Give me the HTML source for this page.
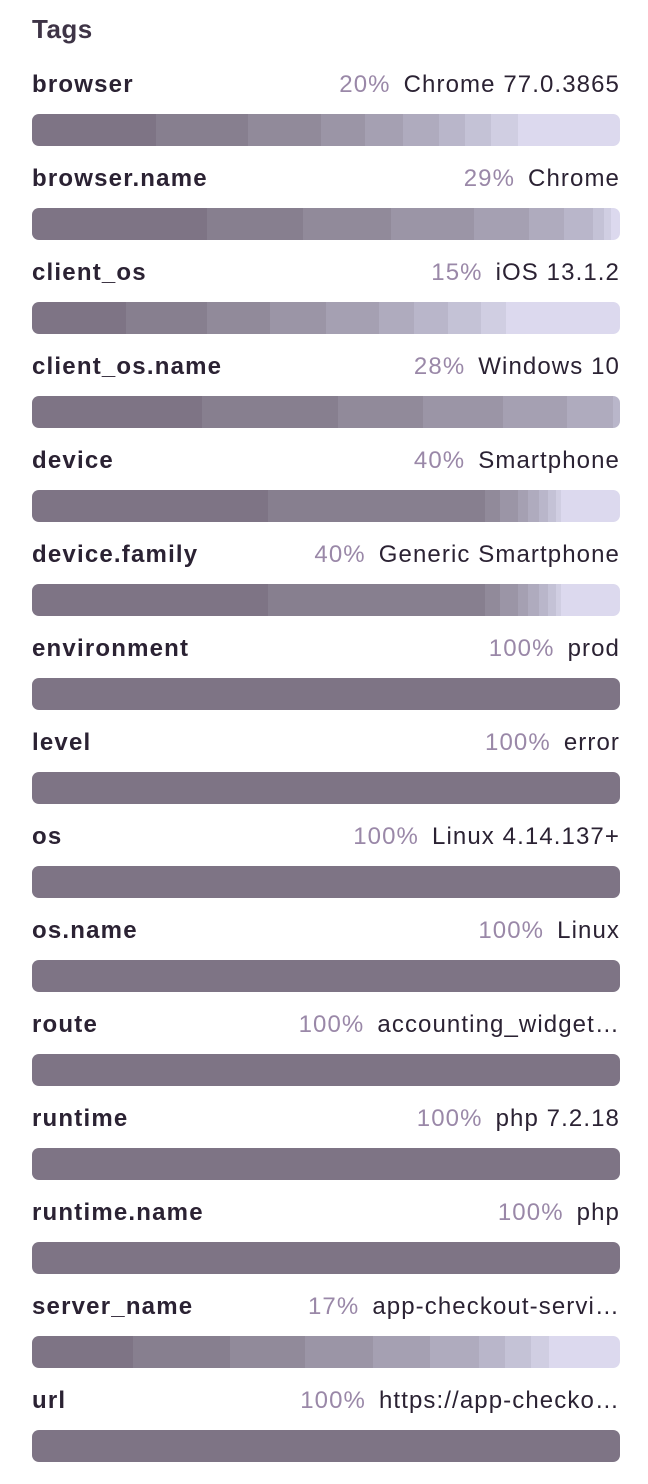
<!DOCTYPE html>
<html><head><meta charset="utf-8">
<style>
html,body{margin:0;padding:0;background:#fff;width:648px;height:1484px;overflow:hidden;font-family:"Liberation Sans",sans-serif;}
#root{position:relative;width:648px;height:1484px;}
.title{position:absolute;left:32px;top:14px;font-size:26px;font-weight:bold;color:#3e3446;letter-spacing:0.5px;line-height:30px;}
.lab{position:absolute;left:32px;font-size:24px;font-weight:bold;color:#2b2233;line-height:28px;letter-spacing:1.2px;}
.val{position:absolute;right:28px;font-size:24px;color:#2b2233;line-height:28px;white-space:nowrap;letter-spacing:1.1px;}
.pct{color:#9a88a8;margin-right:13px;}
.bar{position:absolute;left:32px;width:588px;height:32px;border-radius:7px;overflow:hidden;display:flex;}
.seg{height:100%;}
</style></head><body>
<div id="root">
<div class="title">Tags</div>
</div>
<script>
const tagNames=["browser","browser.name","client_os","client_os.name","device","device.family","environment","level","os","os.name","route","runtime","runtime.name","server_name","url"];
const topPercents=["20%","29%","15%","28%","40%","40%","100%","100%","100%","100%","100%","100%","100%","17%","100%"];
const topValues=["Chrome 77.0.3865","Chrome","iOS 13.1.2","Windows 10","Smartphone","Generic Smartphone","prod","error","Linux 4.14.137+","Linux","accounting_widget…","php 7.2.18","php","app-checkout-servi…","https://app-checko…"];
const segBrowser=[123.5,92.2,73.1,44.2,37.8,35.9,26.6,26.2,26.5,102];
const segBrowserName=[174.7,96.1,88.2,83.3,54.3,35.4,29,11,7,9];
const segClientOs=[94.3,80.4,63.3,55.9,52.7,35.9,33.2,33.3,25.3,113.7];
const segClientOsName=[169.6,136.8,85.1,79.3,64.1,45.7,7.4];
const segDevice=[236.4,216.4,15.7,17.5,9.8,11.7,8.5,8,5,59];
const segDeviceFamily=[236.4,216.4,15.7,17.5,9.8,11.7,8.5,8,5,59];
const segSingle=[100];
const segServerName=[100.5,97.3,75.4,68.3,56.5,49,26,26,18,71];
const segments=[segBrowser,segBrowserName,segClientOs,segClientOsName,segDevice,segDeviceFamily,segSingle,segSingle,segSingle,segSingle,segSingle,segSingle,segSingle,segServerName,segSingle];
const palette=["#7e7485","#877f8f","#918a9a","#9b95a6","#a5a0b2","#afabbe","#b9b6ca","#c4c2d6","#d0cee2","#dcd9ee"];
const root=document.getElementById('root');
tagNames.forEach((name,i)=>{
  const y=71+94*i;
  const slug=name.replace(/[._]/g,'-');
  const lab=document.createElement('div');
  lab.className='lab';lab.style.top=y+'px';lab.textContent=name;
  
  
  root.appendChild(lab);
  const val=document.createElement('div');
  val.className='val';val.style.top=y+'px';
  
  
  const p=document.createElement('span');p.className='pct';p.textContent=topPercents[i];
  
  
  val.appendChild(p);
  val.appendChild(document.createTextNode(topValues[i]));
  root.appendChild(val);
  const bar=document.createElement('div');
  bar.className='bar';bar.style.top=(114+94*i)+'px';
  
  
  const segs=segments[i];
  const total=segs.reduce((a,b)=>a+b,0);
  segs.forEach((v,j)=>{
    const s=document.createElement('div');
    s.className='seg';
    s.style.width=(v/total*100)+'%';
    s.style.background=palette[Math.min(j,palette.length-1)];
    
    
    bar.appendChild(s);
  });
  root.appendChild(bar);
});
</script>
</body></html>
